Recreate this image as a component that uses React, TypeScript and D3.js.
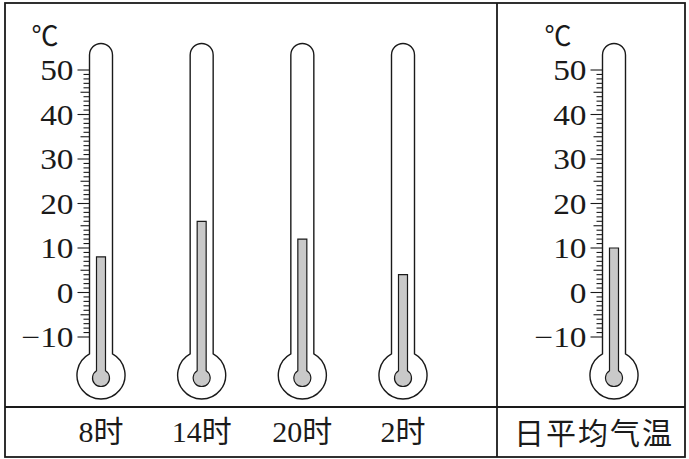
import React from "react";
import * as d3 from "d3";

const times = ["8时", "14时", "20时", "2时"];
const temps = [8, 16, 12, 4];
const avgLabel = "日平均气温";
const avgTemp = 10;
const tickLabels = [50, 40, 30, 20, 10, 0, -10];

const W = 689;
const H = 459;
const y = d3.scaleLinear().domain([-10, 50]).range([337, 70]);
const xLeft = d3.scalePoint<string>().domain(times).range([101, 403]);
const xRight = 614;

const stroke = "#1a1a1a";
const serif = "'Liberation Serif', 'Times New Roman', 'Noto Sans CJK SC', serif";

function Thermometer({ cx, value, scale }: { cx: number; value: number; scale: boolean }) {
  const hw = 11.5;
  const topC = 55;
  const bulbCy = 375;
  const R = 24;
  const yJoin = bulbCy - Math.sqrt(R * R - hw * hw);
  const outline = `M${cx - hw},${yJoin} L${cx - hw},${topC} A${hw},${hw} 0 0 1 ${cx + hw},${topC} L${cx + hw},${yJoin} A${R},${R} 0 1 1 ${cx - hw},${yJoin} Z`;
  const mw = 4.5;
  const r = 8.5;
  const icy = 378;
  const mJoin = icy - Math.sqrt(r * r - mw * mw);
  const yTop = y(value);
  const merc = `M${cx - mw},${yTop} L${cx + mw},${yTop} L${cx + mw},${mJoin} A${r},${r} 0 1 1 ${cx - mw},${mJoin} Z`;
  const ticks = d3.range(-10, 51, 1);
  const axisX = cx - hw;
  return (
    <g>
      <path d={outline} fill="white" stroke={stroke} strokeWidth={1.4} />
      <path d={merc} fill="#c9c9c9" stroke={stroke} strokeWidth={1.2} />
      {scale && (
        <g>
          {ticks.map((t) => {
            const len = t % 10 === 0 ? 12 : t % 5 === 0 ? 9 : 6;
            return (
              <line key={t} x1={axisX - len} x2={axisX} y1={y(t)} y2={y(t)} stroke={stroke} strokeWidth={1.1} />
            );
          })}
          {tickLabels.map((t) => (
            <text
              key={t}
              transform={`translate(${axisX - 16},${y(t)}) scale(1.15,1)`}
              dy="0.35em"
              textAnchor="end"
              fontFamily={serif}
              fontSize={29}
              fill={stroke}
            >
              {t < 0 ? "\u2212" + Math.abs(t) : String(t)}
            </text>
          ))}
          <text x={axisX - 58} y={46} fontFamily="'Noto Sans CJK SC', sans-serif" fontSize={27} fill={stroke}>
            ℃
          </text>
        </g>
      )}
    </g>
  );
}

export default function App() {
  return (
    <svg width={W} height={H} style={{ position: "absolute", left: 0, top: 0, background: "white" }}>
      <rect x={0} y={0} width={W} height={H} fill="white" />
      <rect x={5} y={3} width={680} height={454} fill="none" stroke={stroke} strokeWidth={1.8} />
      <line x1={5} x2={685} y1={407} y2={407} stroke={stroke} strokeWidth={1.8} />
      <line x1={497} x2={497} y1={3} y2={457} stroke={stroke} strokeWidth={1.8} />
      {times.map((t, i) => (
        <Thermometer key={t} cx={xLeft(t)!} value={temps[i]} scale={i === 0} />
      ))}
      <Thermometer cx={xRight} value={avgTemp} scale={true} />
      {times.map((t) => (
        <text key={t} x={xLeft(t)!} y={442} textAnchor="middle" fontFamily={serif} fontSize={30} fill={stroke}>
          {t}
        </text>
      ))}
      <text x={594} y={444} textAnchor="middle" fontFamily="'Noto Sans CJK SC', sans-serif" fontSize={30} letterSpacing={2} fill={stroke}>
        {avgLabel}
      </text>
    </svg>
  );
}
